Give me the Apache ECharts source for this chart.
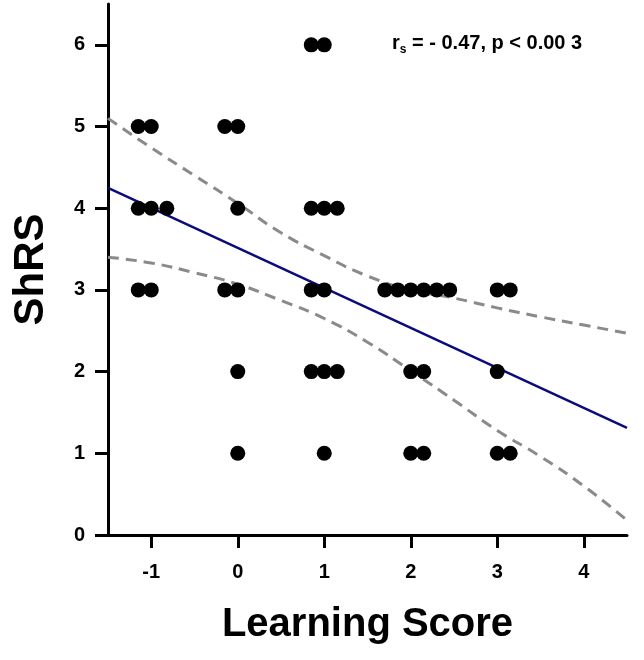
<!DOCTYPE html>
<html>
<head>
<meta charset="utf-8">
<script src="https://cdn.jsdelivr.net/npm/echarts@6/dist/echarts.min.js"></script>
<style>
  html, body { margin: 0; padding: 0; background: #fff; }
  #container { width: 644px; height: 660px; }
</style>
</head>
<body>
<div id="container"></div>
<script>
  // scatter points: learning score vs ShRS
  var scoreX = [-1.15, -1, -1.15, -1, -0.82, -1.15, -1,
                -0.15, 0, 0, -0.15, 0, 0, 0,
                0.85, 1, 0.85, 1, 1.15, 0.85, 1, 0.85, 1, 1.15, 1,
                1.7, 1.85, 2, 2.15, 2.3, 2.45, 2, 2.15, 2, 2.15,
                3, 3.15, 3, 3, 3.15];
  var shrsY  = [5, 5, 4, 4, 4, 3, 3,
                5, 5, 4, 3, 3, 2, 1,
                6, 6, 4, 4, 4, 3, 3, 2, 2, 2, 1,
                3, 3, 3, 3, 3, 3, 2, 2, 1, 1,
                3, 3, 2, 1, 1];

  // regression line ends
  var fitX = [-1.5, 4.5];
  var fitY = [4.25, 1.31];

  // confidence band
  var ciX     = [-1.5, -1, -0.5, 0, 0.5, 1, 1.5, 2, 2.5, 3, 3.5, 4, 4.5];
  var ciUpper = [5.10, 4.74, 4.40, 4.06, 3.70, 3.42, 3.17, 3.00, 2.90, 2.78, 2.67, 2.57, 2.47];
  var ciLower = [3.40, 3.33, 3.21, 3.07, 2.87, 2.65, 2.36, 2.01, 1.65, 1.28, 0.96, 0.60, 0.18];

  var xTicks = [-1, 0, 1, 2, 3, 4];
  var yTicks = [0, 1, 2, 3, 4, 5, 6];

  function pairs(a, b) {
    return a.map(function (v, i) { return [v, b[i]]; });
  }

  var dom = document.getElementById("container");
  var myChart = echarts.init(dom);
  var fnt = 'Liberation Sans, Arial, sans-serif';

  var option = {
      animation: false,
      backgroundColor: '#fff',
      grid: { left: 108, right: 17, top: 4, bottom: 125 },

      //x轴
      xAxis: {
          type: 'value', min: -1.5, max: 4.5,
          name: 'Learning Score', nameLocation: 'middle', nameGap: 70,
          nameTextStyle: { fontFamily: fnt, fontWeight: 'bold', fontSize: 40, color: '#000' },
          splitLine: { show: false },
          axisLine: { onZero: false, lineStyle: { color: '#000', width: 3 } },
          axisTick: { customValues: xTicks, length: 13, lineStyle: { color: '#000', width: 3 } },
          axisLabel: { customValues: xTicks, margin: 27, fontFamily: fnt, fontWeight: 'bold', fontSize: 20, color: '#000' }
      },
      yAxis: {
          type: 'value', min: 0, max: 6.5,
          name: 'ShRS', nameLocation: 'middle', nameGap: 56,
          nameTextStyle: { fontFamily: fnt, fontWeight: 'bold', fontSize: 42, color: '#000' },
          splitLine: { show: false },
          axisLine: { onZero: false, lineStyle: { color: '#000', width: 3 } },
          axisTick: { customValues: yTicks, length: 13, lineStyle: { color: '#000', width: 3 } },
          axisLabel: { customValues: yTicks, margin: 23, fontFamily: fnt, fontWeight: 'bold', fontSize: 20, color: '#000' }
      },

      graphic: [{
          type: 'text', left: 392, top: 33,
          style: {
              text: '{r|r}{s|s}{t| = - 0.47, p < 0.00 3}',
              rich: {
                  r: { fontFamily: fnt, fontWeight: 'bold', fontSize: 20, lineHeight: 26, fill: '#000' },
                  s: { fontFamily: fnt, fontWeight: 'bold', fontSize: 12, lineHeight: 26, verticalAlign: 'bottom', fill: '#000' },
                  t: { fontFamily: fnt, fontWeight: 'bold', fontSize: 20, lineHeight: 26, fill: '#000' }
              }
          }
      }],

      series: [
          {
              type: 'line', data: pairs(ciX, ciUpper), smooth: true, symbol: 'none', z: 1,
              lineStyle: { color: '#8a8a8a', width: 3, type: [11, 7] }
          },
          {
              type: 'line', data: pairs(ciX, ciLower), smooth: true, symbol: 'none', z: 1,
              lineStyle: { color: '#8a8a8a', width: 3, type: [11, 7] }
          },
          {
              type: 'line', data: pairs(fitX, fitY), symbol: 'none', z: 2,
              lineStyle: { color: '#0b0b7d', width: 2.5 }
          },
          {
              type: 'scatter', data: pairs(scoreX, shrsY), symbolSize: 15, z: 3,
              itemStyle: { color: '#000', opacity: 1 }
          }
      ]
  };
  if (option && typeof option === "object") {
      myChart.setOption(option, true);
  }
</script>
</body>
</html>
